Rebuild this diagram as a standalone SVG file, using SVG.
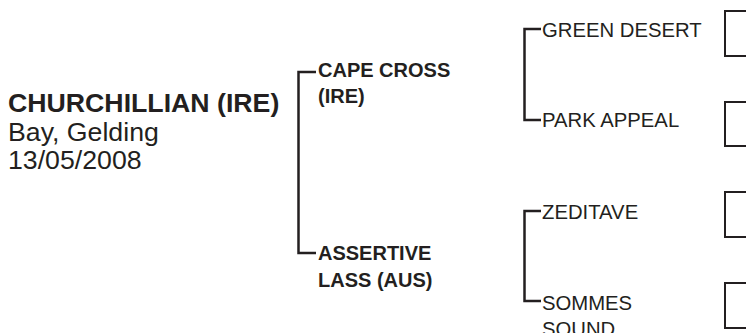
<svg xmlns="http://www.w3.org/2000/svg" width="746" height="333" viewBox="0 0 746 333">
<style>
.b{font-family:"Liberation Sans",Arial,sans-serif;font-weight:bold;fill:#231f20}
.r{font-family:"Liberation Sans",Arial,sans-serif;fill:#231f20}
.ln{fill:none;stroke:#231f20;stroke-width:2.5}
.bx{fill:#fff;stroke:#231f20;stroke-width:2}
</style>
<rect width="746" height="333" fill="#fff"/>
<g id="connectors">
<path class="ln" d="M316,72 H298.5 V253 H316"/>
<path class="ln" d="M541,29 H524.5 V120 H541"/>
<path class="ln" d="M541,211 H524.5 V301 H541"/>
</g>
<g id="subject">
<text class="b" x="8" y="112" font-size="26.7">CHURCHILLIAN (IRE)</text>
<text class="r" x="8" y="141" font-size="26.7">Bay, Gelding</text>
<text class="r" x="8" y="169" font-size="26.7">13/05/2008</text>
</g>
<g id="sire">
<text class="b" x="318" y="77" font-size="20">CAPE CROSS</text>
<text class="b" x="318" y="103" font-size="20">(IRE)</text>
</g>
<g id="dam">
<text class="b" x="318" y="260" font-size="20">ASSERTIVE</text>
<text class="b" x="318" y="287" font-size="20">LASS (AUS)</text>
</g>
<g id="ss">
<text class="r" x="542" y="37" font-size="20.3">GREEN DESERT</text>
<rect class="bx" x="725" y="11" width="40" height="45"/>
</g>
<g id="sd">
<text class="r" x="542" y="127" font-size="20.3">PARK APPEAL</text>
<rect class="bx" x="725" y="102" width="40" height="44"/>
</g>
<g id="ds">
<text class="r" x="542" y="219" font-size="20.3">ZEDITAVE</text>
<rect class="bx" x="725" y="192" width="40" height="45"/>
</g>
<g id="dd">
<text class="r" x="542" y="310" font-size="20.3">SOMMES</text>
<text class="r" x="542" y="336" font-size="20.3">SOUND</text>
<rect class="bx" x="725" y="283" width="40" height="45"/>
</g>
</svg>
